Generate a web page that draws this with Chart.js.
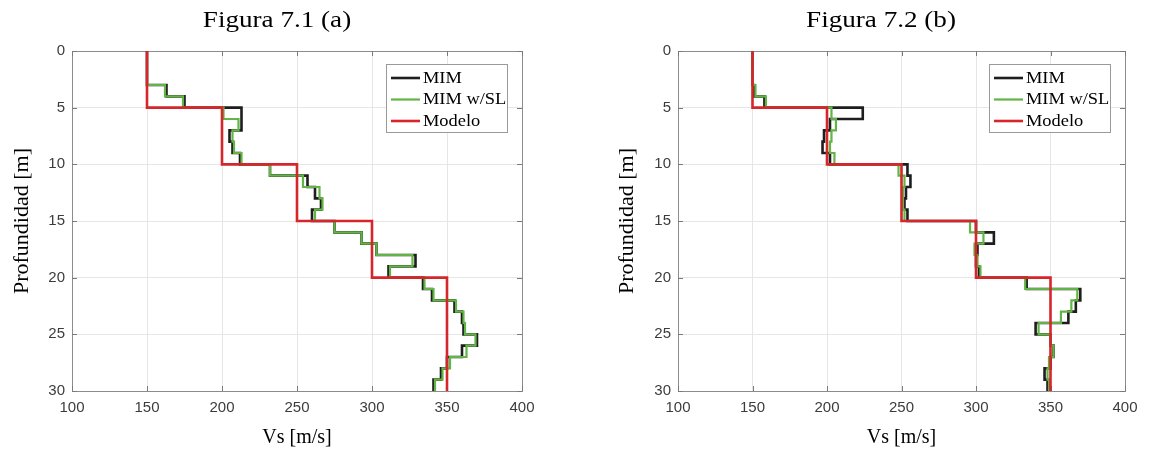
<!DOCTYPE html>
<html><head><meta charset="utf-8">
<script src="https://cdn.jsdelivr.net/npm/chart.js@4.4.0/dist/chart.umd.min.js"></script>
<style>
html,body{margin:0;padding:0;background:#fff;width:1150px;height:463px;overflow:hidden;}
.box{position:absolute;top:0;height:463px;}
</style></head><body>
<div class="box" style="left:0;width:560px"><canvas id="c1"></canvas></div>
<div class="box" style="left:600px;width:550px"><canvas id="c2"></canvas></div>
<script>
// layer boundaries (depth, m)
const depthBounds = [0,1,2,3,4,5,6,7,8,9,10,11,12,13,14,15,16,17,18,19,20,21,22,23,24,25,26,27,28,29,30];
// Vs per 1 m layer (m/s)
const modeloVs = [150,150,150,150,150,200,200,200,200,200,250,250,250,250,250,300,300,300,300,300,350,350,350,350,350,350,350,350,350,350];
const mimA   = [150,150,150,163,175,213,213,205,207,212,232,257,262,266,260,275,293,303,329,311,334,340,355,360,361,370,360,350,346,341];
const mimSLA = [150,150,150,162,174,201,211,207,208,213,232,254,265,267,262,275,293,303,327,312,335,341,356,361,362,369,363,352,347,342];
const mimB   = [150,150,150,151,158,224,202,198,197,202,254,256,253,252,254,300,312,301,300,302,334,370,367,362,340,350,352,350,346,348];
const mimSLB = [150,150,150,152,159,203,206,203,202,205,248,252,251,251,252,296,305,299,301,303,333,368,364,357,342,350,352,349,348,349];
const xTicks = [100,150,200,250,300,350,400];
const yTicks = [0,5,10,15,20,25,30];
const titles = ['Figura 7.1 (a)','Figura 7.2 (b)'];
const seriesNames = ['MIM','MIM w/SL','Modelo'];

function profile(vals){
  const pts=[];
  for(let i=0;i<vals.length;i++){
    pts.push({x:vals[i],y:depthBounds[i]});
    pts.push({x:vals[i],y:depthBounds[i+1]});
  }
  return pts;
}

const COLORS = ['#1e1e1e','#62b446','#d5262b'];
const WIDTHS = [2.6,2.2,2.6];
const SERIF = '"Liberation Serif", "Times New Roman", serif';

function stretchedText(ctx,text,x,y,sx,align){
  ctx.save();
  ctx.translate(x,y);ctx.scale(sx,1);
  ctx.textAlign=align;ctx.fillText(text,0,0);
  ctx.restore();
}

const framePlugin = {
  id:'frame',
  beforeDatasetsDraw(chart){
    const {ctx,chartArea:a,scales}=chart;
    ctx.save();
    ctx.strokeStyle='#8c8c8c';ctx.lineWidth=1;
    ctx.strokeRect(Math.round(a.left)+0.5,Math.round(a.top)+0.5,Math.round(a.right-a.left),Math.round(a.bottom-a.top));
    ctx.strokeStyle='#7a7a7a';
    ctx.beginPath();
    xTicks.forEach(v=>{const px=Math.round(scales.x.getPixelForValue(v))+0.5;
      ctx.moveTo(px,a.bottom);ctx.lineTo(px,a.bottom-5);ctx.moveTo(px,a.top);ctx.lineTo(px,a.top+5);});
    yTicks.forEach(v=>{const py=Math.round(scales.y.getPixelForValue(v))+0.5;
      ctx.moveTo(a.left,py);ctx.lineTo(a.left+5,py);ctx.moveTo(a.right,py);ctx.lineTo(a.right-5,py);});
    ctx.stroke();
    ctx.restore();
  },
  afterDraw(chart,args,opts){
    const {ctx,chartArea:a}=chart;
    ctx.save();
    // title
    ctx.fillStyle='#000';ctx.font='24px '+SERIF;ctx.textBaseline='middle';
    stretchedText(ctx,opts.title,opts.titleX,21,1.13,'center');
    // legend
    const w=121,h=68;
    const x0=a.right-15-w, y0=a.top+13;
    ctx.fillStyle='#fff';ctx.fillRect(x0,y0,w,h);
    ctx.strokeStyle='#9a9a9a';ctx.lineWidth=1;ctx.strokeRect(Math.round(x0)+0.5,Math.round(y0)+0.5,w,h);
    ctx.font='16px '+SERIF;
    ctx.textBaseline='middle';
    seriesNames.forEach((name,i)=>{
      const yy=y0+14+i*21.5;
      ctx.strokeStyle=COLORS[i];ctx.lineWidth=WIDTHS[i];
      ctx.beginPath();ctx.moveTo(x0+5,yy);ctx.lineTo(x0+34,yy);ctx.stroke();
      ctx.fillStyle='#000';stretchedText(ctx,name,x0+37,yy+0.5,1.15,'left');
    });
    ctx.restore();
  }
};

function makeChart(id,title,titleX,mim,mimsl,yW,rightPad,yTitlePad){
  const serie=[mim,mimsl,modeloVs];
  const order=[2,1,0];
  return new Chart(document.getElementById(id),{
    type:'scatter',
    data:{datasets:serie.map((s,i)=>({
      label:seriesNames[i],data:profile(s),showLine:true,pointRadius:0,
      borderColor:COLORS[i],borderWidth:WIDTHS[i],fill:false,tension:0,order:order[i]
    }))},
    options:{
      responsive:true,maintainAspectRatio:false,animation:false,
      layout:{padding:{left:0,right:rightPad,top:51,bottom:0}},
      plugins:{
        legend:{display:false},tooltip:{enabled:false},title:{display:false},
        frame:{title:title,titleX:titleX}
      },
      scales:{
        x:{type:'linear',min:100,max:400,
          afterBuildTicks(s){s.ticks=xTicks.map(v=>({value:v}));},
          afterFit(s){s.height=72;},
          ticks:{color:'#3c3c3c',font:{family:'"Liberation Sans", Arial, sans-serif',size:15},padding:8,maxRotation:0},
          grid:{color:'#e6e6e6',drawTicks:false},border:{display:false},
          title:{display:true,text:'Vs [m/s]',color:'#000',
            font:{family:SERIF,size:20},padding:{top:0,bottom:13}}
        },
        y:{type:'linear',reverse:true,min:0,max:30,
          afterBuildTicks(s){s.ticks=yTicks.map(v=>({value:v}));},
          afterFit(s){s.width=yW;},
          ticks:{color:'#3c3c3c',font:{family:'"Liberation Sans", Arial, sans-serif',size:15},padding:7},
          grid:{color:'#e6e6e6',drawTicks:false},border:{display:false},
          title:{display:true,text:'Profundidad [m]',color:'#000',
            font:{family:SERIF,size:22},padding:{top:yTitlePad,bottom:0}}
        }
      }
    },
    plugins:[framePlugin]
  });
}
makeChart('c1',titles[0],277,mimA,mimSLA,72,38,9);
makeChart('c2',titles[1],281,mimB,mimSLB,78,25,14);
</script>
</body></html>
